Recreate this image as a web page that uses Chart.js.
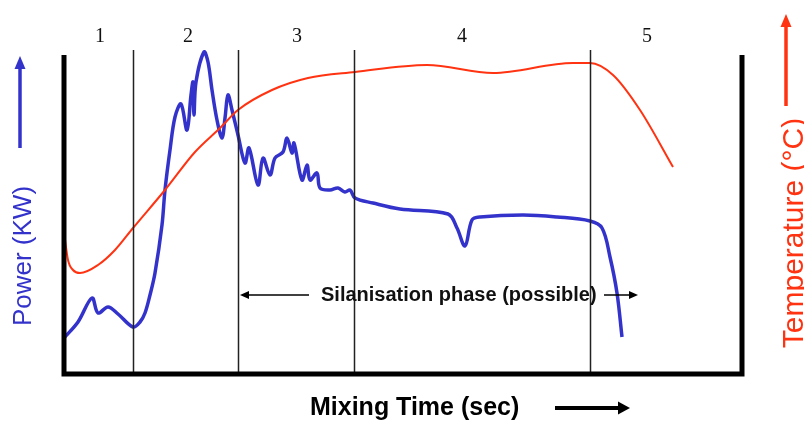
<!DOCTYPE html>
<html>
<head>
<meta charset="utf-8">
<script src="https://cdn.jsdelivr.net/npm/chart.js@4"></script>
<style>
    body { margin: 0; background: #fff; }
    #wrap { width: 804px; height: 421px; }
</style>
</head>
<body>
<div id="wrap"><canvas id="mixChart"></canvas></div>
<script>
// time in arbitrary units, power / temperature in arbitrary units (no ticks in the source)
const powerTime = [0, 14, 28, 34, 44, 54, 69, 76, 81, 86, 91, 98, 101, 106, 111, 117, 123, 127, 129, 130, 132, 140, 144, 148, 153, 158, 161, 164, 168, 174, 181, 185, 194, 199, 206, 211, 219, 223, 228, 230, 238, 243, 246, 253, 256, 266, 274, 281, 286, 291, 309, 336, 384, 393, 401, 408, 416, 459, 493, 526, 538, 546, 553, 558];
const powerValues = [36, 52, 76, 61, 67, 60, 47, 52, 61, 79, 101, 149, 184, 224, 257, 270, 244, 279, 292, 259, 292, 322, 312, 284, 254, 236, 256, 279, 264, 239, 211, 226, 189, 216, 199, 216, 222, 236, 221, 231, 194, 209, 194, 201, 186, 184, 186, 182, 184, 176, 171, 165, 160, 146, 128, 154, 157, 159, 157, 153, 146, 117, 81, 37];

const tempTime = [0, 4, 9, 16, 34, 51, 69, 101, 131, 156, 174, 208, 244, 291, 363, 429, 509, 526, 549, 576, 609];
const tempValues = [142, 114, 104, 101, 109, 124, 146, 184, 222, 246, 264, 284, 296, 302, 309, 301, 311, 311, 299, 264, 207];

const phaseBounds = [69, 174, 290, 526];
const phaseLabels = ['1', '2', '3', '4', '5'];
const phaseLabelTime = [36, 124, 233, 398, 583];
const silanisationRange = [176, 574];

const BLUE = '#3333cc';
const RED = '#ff3311';

function toPoints(xs, ys) {
    return xs.map((x, i) => ({ x: x, y: ys[i] }));
}

function arrow(ctx, x1, y1, x2, y2, width, head, headW, color) {
    const ang = Math.atan2(y2 - y1, x2 - x1);
    ctx.save();
    ctx.strokeStyle = color;
    ctx.fillStyle = color;
    ctx.lineWidth = width;
    ctx.beginPath();
    ctx.moveTo(x1, y1);
    ctx.lineTo(x2 - Math.cos(ang) * head * 0.8, y2 - Math.sin(ang) * head * 0.8);
    ctx.stroke();
    ctx.translate(x2, y2);
    ctx.rotate(ang);
    ctx.beginPath();
    ctx.moveTo(0, 0);
    ctx.lineTo(-head, -headW / 2);
    ctx.lineTo(-head, headW / 2);
    ctx.closePath();
    ctx.fill();
    ctx.restore();
}

const decorations = {
    id: 'decorations',
    afterDatasetsDraw(chart) {
        const ctx = chart.ctx;
        const xs = chart.scales.x;
        const area = chart.chartArea;

        // phase dividers
        ctx.save();
        ctx.strokeStyle = '#222';
        ctx.lineWidth = 1.5;
        phaseBounds.forEach(t => {
            const px = Math.round(xs.getPixelForValue(t)) + 0.5;
            ctx.beginPath();
            ctx.moveTo(px, area.top);
            ctx.lineTo(px, area.bottom);
            ctx.stroke();
        });

        // frame (open at top)
        ctx.strokeStyle = '#000';
        ctx.lineWidth = 5;
        ctx.beginPath();
        ctx.moveTo(area.left, area.top + 5);
        ctx.lineTo(area.left, area.bottom);
        ctx.lineTo(area.right, area.bottom);
        ctx.lineTo(area.right, area.top + 5);
        ctx.stroke();

        // phase numbers
        ctx.fillStyle = '#111';
        ctx.font = '20px "Liberation Serif", "DejaVu Serif", serif';
        ctx.textAlign = 'center';
        ctx.textBaseline = 'middle';
        phaseLabels.forEach((lab, i) => {
            ctx.fillText(lab, xs.getPixelForValue(phaseLabelTime[i]), 37);
        });

        // silanisation annotation
        const sy = 295;
        const sx1 = xs.getPixelForValue(silanisationRange[0]);
        const sx2 = xs.getPixelForValue(silanisationRange[1]);
        arrow(ctx, 309, sy, sx1, sy, 1.5, 9, 8, '#000');
        arrow(ctx, 604, sy, sx2, sy, 1.5, 9, 8, '#000');
        ctx.fillStyle = '#111';
        ctx.font = 'bold 20px "Liberation Sans", Arial, sans-serif';
        ctx.textAlign = 'left';
        ctx.fillText('Silanisation phase (possible)', 321, sy);

        // x title + arrow
        ctx.font = 'bold 25px "Liberation Sans", Arial, sans-serif';
        ctx.textAlign = 'left';
        ctx.fillStyle = '#000';
        ctx.fillText('Mixing Time (sec)', 310, 408);
        arrow(ctx, 555, 408, 630, 408, 4, 12, 13, '#000');

        // left title
        ctx.save();
        ctx.translate(24, 256);
        ctx.rotate(-Math.PI / 2);
        ctx.fillStyle = BLUE;
        ctx.font = '26px "Liberation Sans", Arial, sans-serif';
        ctx.textAlign = 'center';
        ctx.fillText('Power (KW)', 0, 0);
        ctx.restore();
        arrow(ctx, 20, 148, 20, 56, 3.5, 13, 11, BLUE);

        // right title
        ctx.save();
        ctx.translate(795, 233);
        ctx.rotate(-Math.PI / 2);
        ctx.fillStyle = RED;
        ctx.font = '30px "Liberation Sans", Arial, sans-serif';
        ctx.textAlign = 'center';
        ctx.fillText('Temperature (°C)', 0, 0);
        ctx.restore();
        arrow(ctx, 786, 106, 786, 14, 3.5, 13, 11, RED);

        ctx.restore();
    }
};

new Chart(document.getElementById('mixChart'), {
    type: 'line',
    data: {
        datasets: [
            {
                label: 'Temperature',
                data: toPoints(tempTime, tempValues),
                borderColor: RED,
                borderWidth: 2,
                pointRadius: 0,
                cubicInterpolationMode: 'monotone',
                yAxisID: 'y2',
                clip: false
            },
            {
                label: 'Power',
                data: toPoints(powerTime, powerValues),
                borderColor: BLUE,
                borderWidth: 3.5,
                pointRadius: 0,
                tension: 0.35,
                yAxisID: 'y',
                clip: false
            }
        ]
    },
    options: {
        responsive: true,
        maintainAspectRatio: false,
        devicePixelRatio: 1,
        animation: false,
        layout: { padding: { left: 64, right: 62, top: 50, bottom: 47 } },
        plugins: {
            legend: { display: false },
            tooltip: { enabled: false }
        },
        scales: {
            x: { type: 'linear', min: 0, max: 678, display: false },
            y: { min: 0, max: 324, display: false },
            y2: { min: 0, max: 324, display: false, position: 'right' }
        }
    },
    plugins: [decorations]
});
</script>
</body>
</html>
